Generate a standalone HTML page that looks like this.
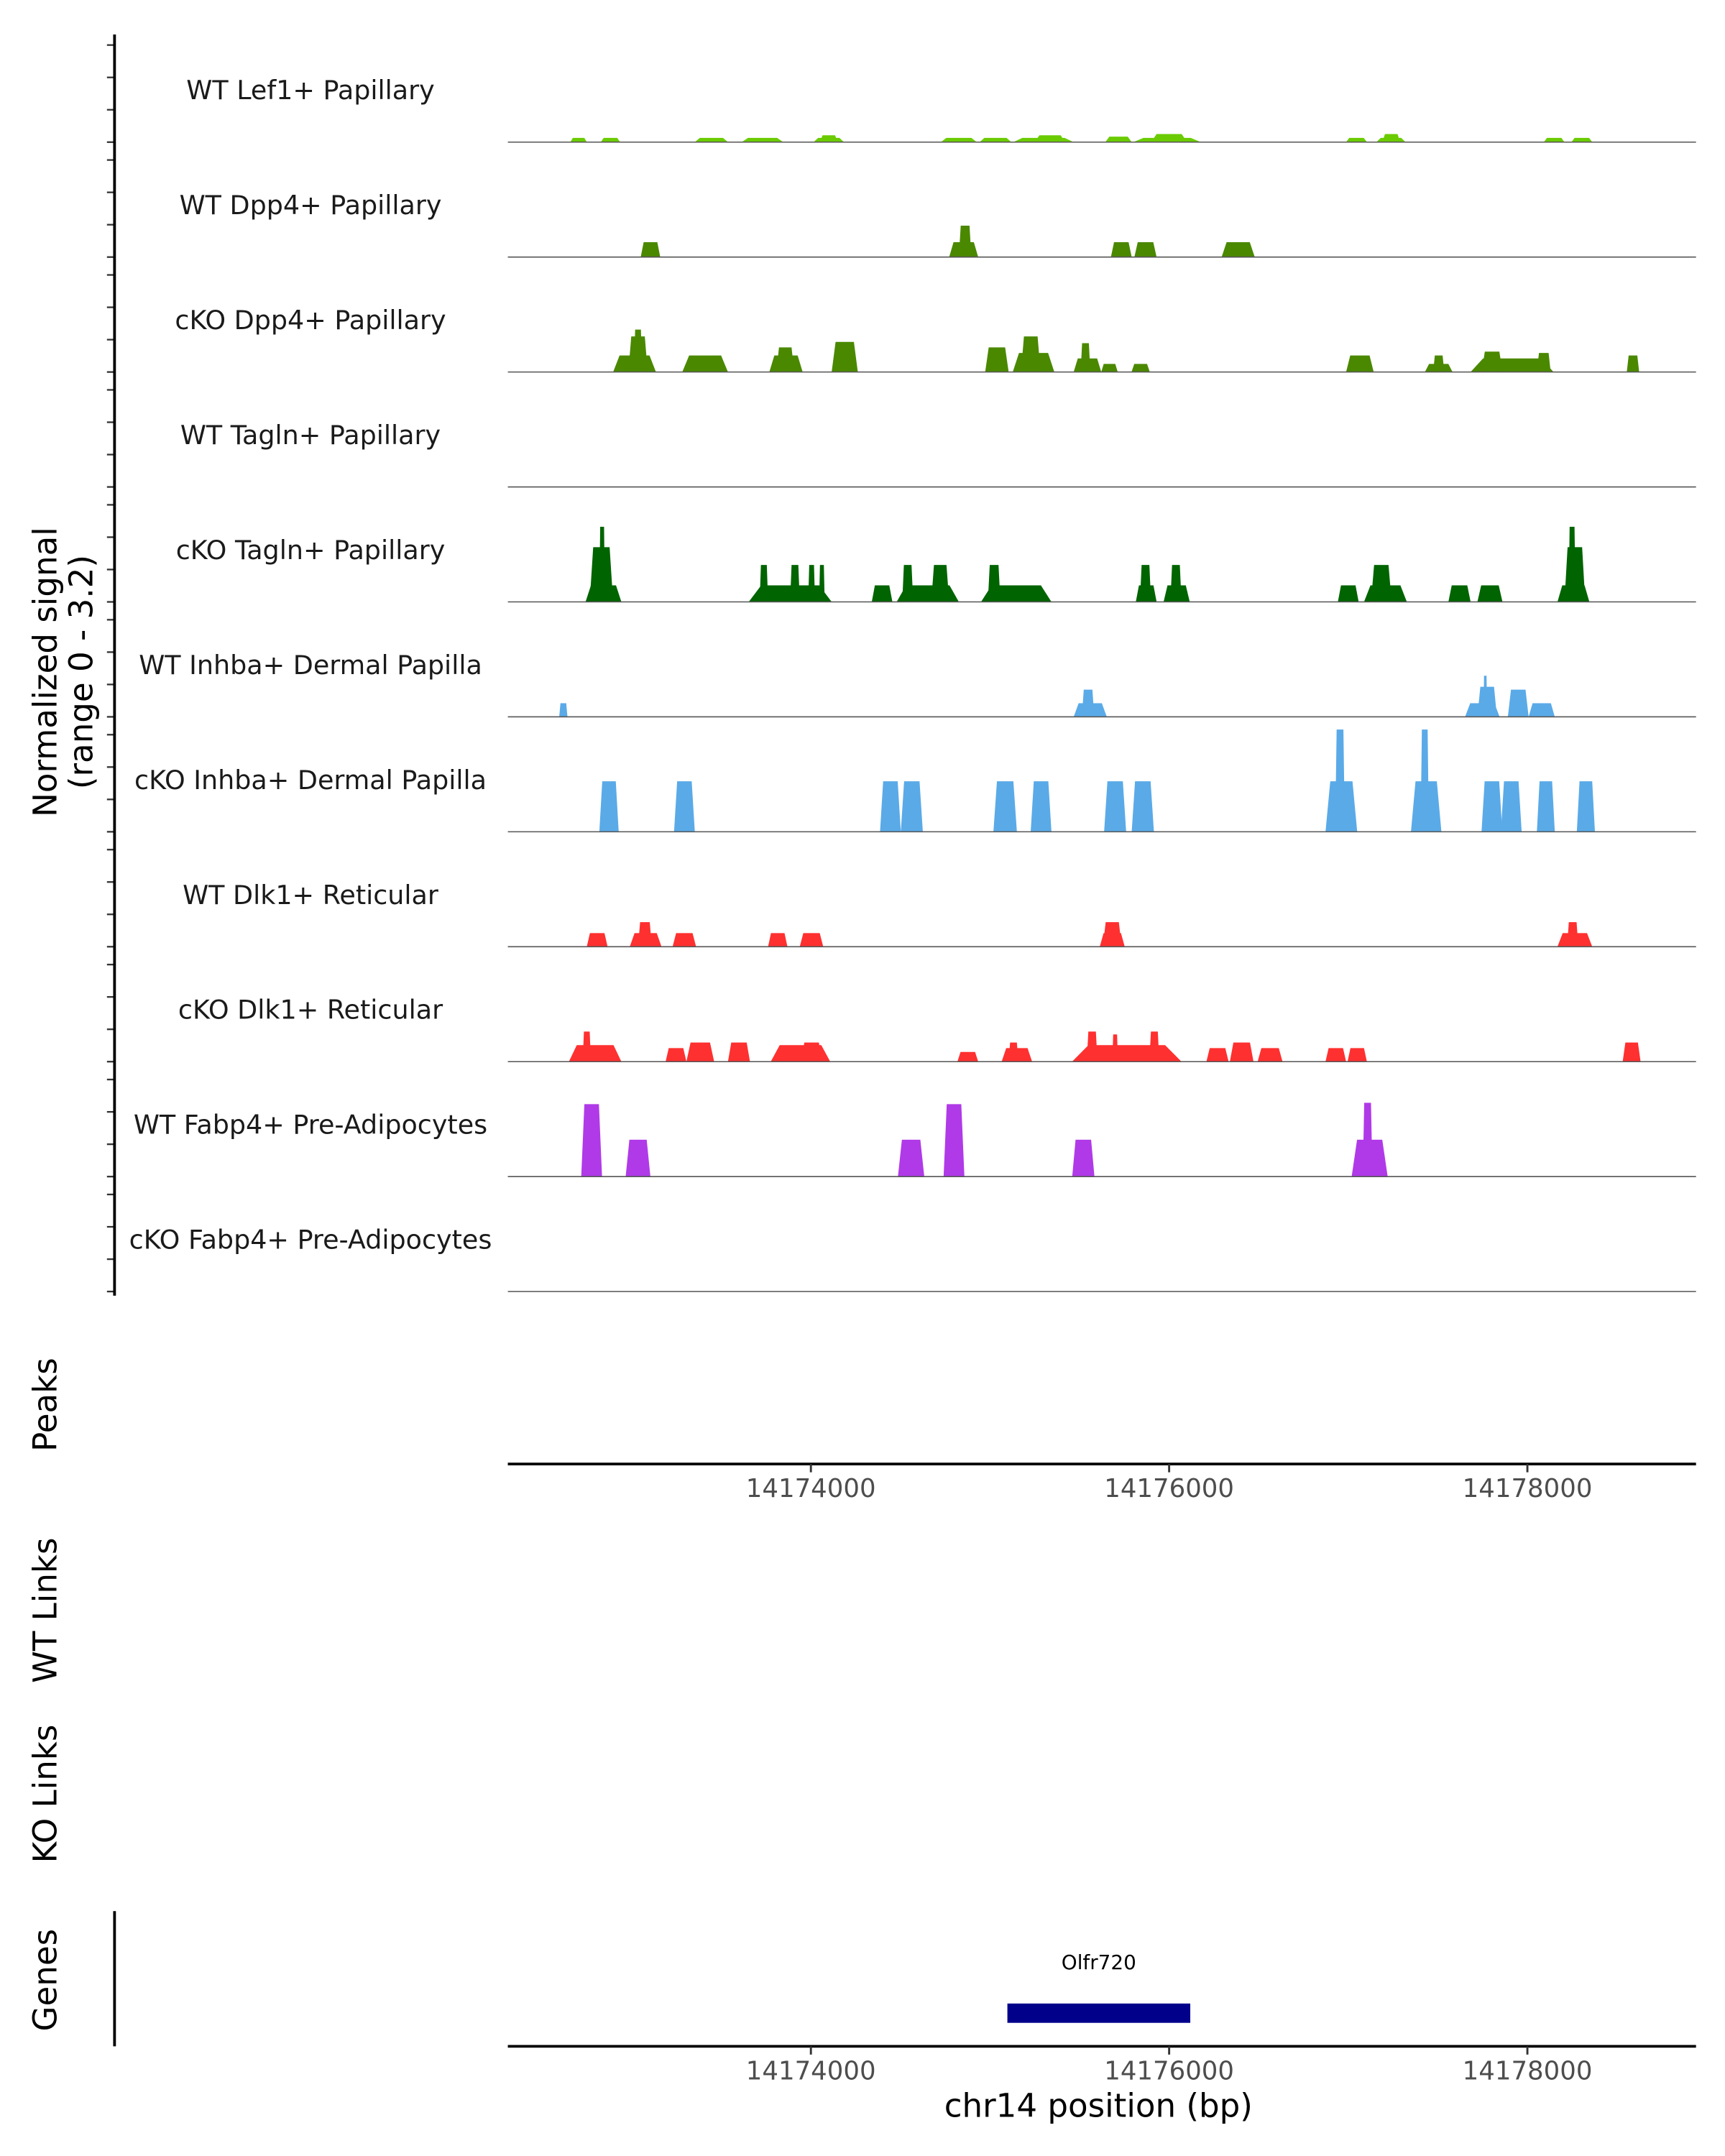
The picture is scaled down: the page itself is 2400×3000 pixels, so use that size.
<!DOCTYPE html>
<html><head><meta charset="utf-8">
<style>
html,body{margin:0;padding:0;background:#fff;}
svg{display:block;}
text{font-family:"DejaVu Sans","Liberation Sans",sans-serif;}
</style></head>
<body>
<svg id="chart" width="2400" height="3000" viewBox="0 0 1250 1562.5" xmlns="http://www.w3.org/2000/svg">
<g id="tracks"></g>
<g id="axes"></g>
</svg>
<script>
// ---- data (segments: [start bp, end bp, normalized signal]) ----
const trackNames = ["WT Lef1+ Papillary","WT Dpp4+ Papillary","cKO Dpp4+ Papillary","WT Tagln+ Papillary","cKO Tagln+ Papillary","WT Inhba+ Dermal Papilla","cKO Inhba+ Dermal Papilla","WT Dlk1+ Reticular","cKO Dlk1+ Reticular","WT Fabp4+ Pre-Adipocytes","cKO Fabp4+ Pre-Adipocytes"];
const trackColors = ["#6acb00","#4a8800","#4a8800","#006400","#006400","#5aaae8","#5aaae8","#ff3030","#ff3030","#b03ae8","#b03ae8"];
const segWTLef1 = [[14172657,14172749,.13],[14172827,14172935,.13],[14173352,14173537,.13],[14173614,14173846,.13],[14174015,14174185,.13],[14174050,14174150,.21],[14174726,14174926,.13],[14174942,14175119,.13],[14175130,14175467,.13],[14175250,14175420,.21],[14175644,14175791,.17],[14175800,14176177,.13],[14175900,14176100,.25],[14176988,14177104,.13],[14177157,14177320,.13],[14177190,14177290,.25],[14178092,14178207,.13],[14178246,14178362,.13]];
const segWTDpp4 = [[14173050,14173159,.46],[14174772,14174934,.46],[14174826,14174896,.97],[14175675,14175791,.46],[14175806,14175930,.46],[14176293,14176478,.46]];
const segKODpp4 = [[14172896,14173135,.51],[14172981,14173089,1.1],[14173012,14173058,1.31],[14173282,14173537,.51],[14173768,14173954,.51],[14173807,14173907,.76],[14174116,14174262,.93],[14174973,14175104,.76],[14175127,14175359,.59],[14175173,14175282,1.1],[14175467,14175621,.42],[14175506,14175560,.89],[14175621,14175713,.25],[14175790,14175892,.25],[14176988,14177142,.51],[14177428,14177582,.25],[14177474,14177536,.51],[14177683,14178146,.42],[14177745,14177861,.63],[14178053,14178130,.59],[14178555,14178624,.51]];
const segWTTagln = [];
const segKOTagln = [[14172742,14172942,.51],[14172765,14172896,1.69],[14172819,14172850,2.32],[14173653,14174116,.51],[14173714,14173761,1.14],[14173884,14173938,1.14],[14173985,14174023,1.14],[14174046,14174077,1.14],[14174340,14174455,.51],[14174479,14174826,.51],[14174510,14174571,1.14],[14174672,14174772,1.14],[14174950,14175343,.51],[14174988,14175058,1.14],[14175814,14175930,.51],[14175837,14175899,1.14],[14175969,14176115,.51],[14176007,14176069,1.14],[14176942,14177058,.51],[14177088,14177327,.51],[14177127,14177242,1.14],[14177559,14177683,.51],[14177721,14177861,.51],[14178168,14178346,.51],[14178207,14178323,1.69],[14178230,14178269,2.32]];
const segWTInhba = [[14172595,14172641,.42],[14175467,14175652,.42],[14175513,14175582,.84],[14177652,14177845,.42],[14177721,14177830,.93],[14177755,14177775,1.27],[14177891,14178007,.84],[14178007,14178153,.42]];
const segKOInhba = [[14172819,14172927,1.56],[14173236,14173352,1.56],[14174386,14174502,1.56],[14174502,14174625,1.56],[14175019,14175150,1.56],[14175227,14175343,1.56],[14175637,14175760,1.56],[14175791,14175915,1.56],[14176873,14177050,1.56],[14176927,14176981,3.16],[14177350,14177520,1.56],[14177404,14177450,3.16],[14177744,14177860,1.56],[14177852,14177968,1.56],[14178053,14178153,1.56],[14178276,14178377,1.56]];
const segWTDlk1 = [[14172749,14172865,.42],[14172989,14173166,.42],[14173035,14173112,.76],[14173228,14173359,.42],[14173761,14173869,.42],[14173938,14174069,.42],[14175613,14175752,.42],[14175630,14175735,.76],[14178168,14178362,.42],[14178222,14178284,.76]];
const segKODlk1 = [[14172649,14172942,.51],[14172726,14172772,.93],[14173189,14173305,.42],[14173305,14173460,.59],[14173537,14173660,.59],[14173776,14174108,.51],[14173946,14174062,.59],[14174818,14174934,.3],[14175065,14175235,.42],[14175104,14175158,.59],[14175458,14176069,.51],[14175540,14175600,.93],[14175683,14175714,.84],[14175890,14175945,.93],[14176208,14176332,.42],[14176339,14176471,.59],[14176494,14176633,.42],[14176873,14176988,.42],[14176996,14177104,.42],[14178532,14178632,.59]];
const segWTFabp4 = [[14172718,14172834,2.24],[14172966,14173104,1.14],[14174486,14174633,1.14],[14174741,14174857,2.24],[14175459,14175583,1.14],[14177019,14177220,1.14],[14177081,14177135,2.28]];
const segKOFabp4 = [];
const trackSegs = [segWTLef1,segWTDpp4,segKODpp4,segWTTagln,segKOTagln,segWTInhba,segKOInhba,segWTDlk1,segKODlk1,segWTFabp4,segKOFabp4];
const xTicks = [14174000,14176000,14178000];
const xTickLabels = ["14174000","14176000","14178000"];
const geneName = ["Olfr720"];
const geneStart = [14175097];
const geneEnd = [14176118];

// ---- scales ----
const X0 = 368, X1 = 1229;
function xs(bp){ return 587.6 + (bp - 14174000) * 259.6 / 2000; }
const firstBase = 103, trackH = 83.3, unitPx = 23.45;
function base(i){ return firstBase + i * trackH; }
function ys(i, v){ return base(i) - v * unitPx; }

const NS = "http://www.w3.org/2000/svg";
function mk(tag, attrs, parent, txt){
  const e = document.createElementNS(NS, tag);
  for (const k in attrs) e.setAttribute(k, attrs[k]);
  if (txt !== undefined) e.textContent = txt;
  parent.appendChild(e);
  return e;
}
const T = document.getElementById('tracks');
const A = document.getElementById('axes');

trackNames.forEach((name, i) => {
  const g = mk('g', {}, T);
  
  
  trackSegs[i].forEach(s => {
    const a = xs(s[0]), b = xs(s[1]), r = (b - a) * 0.15;
    const y0 = base(i), y1 = ys(i, s[2]);
    const p = mk('polygon', {points: `${a},${y0} ${a + r},${y1} ${b - r},${y1} ${b},${y0}`, fill: trackColors[i]}, g);
    
    
  });
  const bl = mk('line', {x1: X0, x2: X1, y1: base(i), y2: base(i), stroke: '#555', 'stroke-width': 0.8}, g);
  
  
  const lb = mk('text', {x: 225, y: base(i) - 31, 'text-anchor': 'middle', 'font-size': 19, fill: '#1a1a1a'}, g, name);
  
  
  for (let k = 0; k < 4; k++) {
    const ty = base(i) - k * unitPx;
    const tk = mk('line', {x1: 77.5, x2: 83, y1: ty, y2: ty, stroke: '#333', 'stroke-width': 1.2}, g);
    
    
  }
});

// left y axis
let e = mk('line', {x1: 83, x2: 83, y1: 25, y2: 939, stroke: '#000', 'stroke-width': 2}, A);


e = mk('text', {transform: 'translate(41,487) rotate(-90)', 'text-anchor': 'middle', 'font-size': 23.5, fill: '#000'}, A);


mk('tspan', {x: 0, dy: 0}, e, 'Normalized signal');
mk('tspan', {x: 0, dy: 26}, e, '(range 0 - 3.2)');

// side titles
[['Peaks', 1018, 'peaks-title'], ['WT Links', 1167, 'wt-links-title'], ['KO Links', 1300, 'ko-links-title'], ['Genes', 1435, 'genes-title']].forEach(t => {
  const s = mk('text', {transform: `translate(41,${t[1]}) rotate(-90)`, 'text-anchor': 'middle', 'font-size': 23.5, fill: '#000'}, A, t[0]);
  
  
});

// x axes
function xAxis(y, nm){
  const g = mk('g', {}, A);
  
  
  mk('line', {x1: X0, x2: X1, y1: y, y2: y, stroke: '#000', 'stroke-width': 2}, g);
  xTicks.forEach((t, k) => {
    const tk = mk('line', {x1: xs(t), x2: xs(t), y1: y, y2: y + 6, stroke: '#333', 'stroke-width': 1.5}, g);
    
    
    const tl = mk('text', {x: xs(t), y: y + 24, 'text-anchor': 'middle', 'font-size': 18.5, fill: '#4d4d4d'}, g, xTickLabels[k]);
    
    
  });
}
xAxis(1061, 'peaks-x-axis');
xAxis(1483, 'genes-x-axis');

e = mk('line', {x1: 83, x2: 83, y1: 1385, y2: 1483, stroke: '#000', 'stroke-width': 2}, A);



geneName.forEach((g, k) => {
  const r = mk('rect', {x: xs(geneStart[k]), y: 1452, width: xs(geneEnd[k]) - xs(geneStart[k]), height: 14, fill: '#00008b'}, A);
  
  
  const t = mk('text', {x: (xs(geneStart[k]) + xs(geneEnd[k])) / 2, y: 1427, 'text-anchor': 'middle', 'font-size': 14.5, fill: '#000'}, A, g);
  
  
});

e = mk('text', {x: 796, y: 1534, 'text-anchor': 'middle', 'font-size': 23.5, fill: '#000'}, A, 'chr14 position (bp)');


</script>
</body></html>
